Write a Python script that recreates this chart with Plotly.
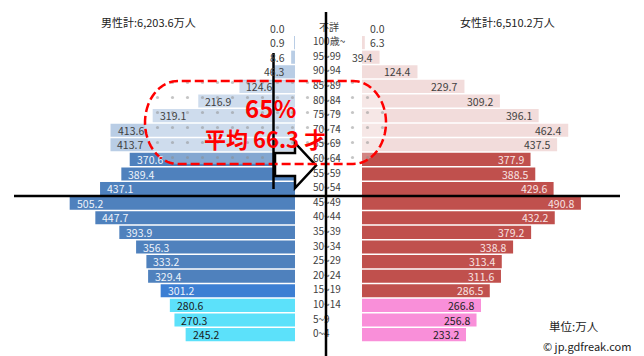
import numpy as np
import plotly.graph_objects as go

W, H = 644, 356

# ---------------- data ----------------
ages = ["不詳", "100歳~", "95~99", "90~94", "85~89", "80~84", "75~79", "70~74",
        "65~69", "60~64", "55~59", "50~54", "45~49", "40~44", "35~39", "30~34",
        "25~29", "20~24", "15~19", "10~14", "5~9", "0~4"]
male = [0.0, 0.9, 8.6, 46.3, 124.6, 216.9, 319.1, 413.6, 413.7, 370.6, 389.4,
        437.1, 505.2, 447.7, 393.9, 356.3, 333.2, 329.4, 301.2, 280.6, 270.3, 245.2]
female = [0.0, 6.3, 39.4, 124.4, 229.7, 309.2, 396.1, 462.4, 437.5, 377.9, 388.5,
          429.6, 490.8, 432.2, 379.2, 338.8, 313.4, 311.6, 286.5, 266.8, 256.8, 233.2]
age_group = ["old"] * 9 + ["work"] * 9 + ["teen"] + ["child"] * 3
male_total = "6,203.6"
female_total = "6,510.2"
share_65 = "65%"
avg_age = "66.3"

# ---------------- styles ----------------
male_fill = {"old": "#b9cde5", "work": "#4f81bd", "teen": "#3d7fd3", "child": "#5ce1fa"}
female_fill = {"old": "#f2dcdb", "work": "#c0504d", "teen": "#c0504d", "child": "#f98fd9"}
male_txt = {"old": "#404040", "work": "#eef3fa", "teen": "#eef3fa", "child": "#1a1a1a"}
female_txt = {"old": "#404040", "work": "#f8e4e4", "teen": "#f8e4e4", "child": "#222222"}
JP = "Noto Sans CJK JP"

# geometry (pixels) of the pyramid
PX_PER_UNIT = 0.446
MALE_EDGE, FEMALE_EDGE = 295, 362
CENTER = (MALE_EDGE + FEMALE_EDGE) / 2
HALF_GAP = (FEMALE_EDGE - MALE_EDGE) / 2 / PX_PER_UNIT
X_RANGE = [-CENTER / PX_PER_UNIT, (W - CENTER) / PX_PER_UNIT]


def px(x):
    return x / W


def py(y):
    return 1 - y / H


fig = go.Figure()

fig.add_trace(go.Bar(
    y=ages, x=[-v for v in male], base=[-HALF_GAP] * len(male), orientation="h",
    xaxis="x", yaxis="y",
    marker=dict(color=[male_fill[g] for g in age_group], line=dict(width=0)),
    hoverinfo="skip", showlegend=False))
fig.add_trace(go.Bar(
    y=ages, x=female, base=[HALF_GAP] * len(female), orientation="h",
    xaxis="x", yaxis="y",
    marker=dict(color=[female_fill[g] for g in age_group], line=dict(width=0)),
    hoverinfo="skip", showlegend=False))

# center age labels (text trace so that the lines are drawn over them)
lab_x = [319 if a == "不詳" else 313 for a in ages]
fig.add_trace(go.Scatter(
    x=lab_x, y=ages, xaxis="x4", yaxis="y", mode="text", text=ages,
    textposition="middle right", textfont=dict(family=JP, size=10, color="#404040"),
    hoverinfo="skip", showlegend=False))

# stadium-shaped highlighted region (pixel geometry)
cy, ry = 122.5, 41.5
lx, rx_c, rad = 178, 353, 33
t1 = np.linspace(np.pi / 2, 3 * np.pi / 2, 40)
t2 = np.linspace(-np.pi / 2, np.pi / 2, 40)
sx = list(lx + rad * np.cos(t1)) + list(rx_c + rad * np.cos(t2))
sy = list(cy - ry * np.sin(t1)) + list(cy - ry * np.sin(t2))
sx.append(sx[0]); sy.append(sy[0])
fig.add_trace(go.Scatter(
    x=sx, y=sy, xaxis="x3", yaxis="y3", mode="lines", line=dict(width=0),
    fill="toself", fillcolor="rgba(255,255,255,0.3)",
    fillpattern=dict(shape=".", size=15, solidity=0.035, fgcolor="#8c8c8c",
                     bgcolor="rgba(255,255,255,0.3)"),
    hoverinfo="skip", showlegend=False))

annotations = []
for a, v, g in zip(ages, male, age_group):
    f = dict(family=JP, size=10.5, color=male_txt[g])
    if v >= 60:
        annotations.append(dict(x=-HALF_GAP - v, y=a, xref="x", yref="y", xanchor="left",
                                xshift=5, text=f"{v:.1f}", showarrow=False, font=f))
    else:
        annotations.append(dict(x=-HALF_GAP, y=a, xref="x", yref="y", xanchor="right",
                                xshift=-8, text=f"{v:.1f}", showarrow=False, font=f))
for a, v, g in zip(ages, female, age_group):
    f = dict(family=JP, size=10.5, color=female_txt[g])
    if v >= 30:
        annotations.append(dict(x=HALF_GAP + v, y=a, xref="x", yref="y", xanchor="right",
                                xshift=-5, text=f"{v:.1f}", showarrow=False, font=f))
    else:
        annotations.append(dict(x=HALF_GAP, y=a, xref="x", yref="y", xanchor="left",
                                xshift=6, text=f"{v:.1f}", showarrow=False, font=f))

annotations += [
    dict(x=px(99), y=py(22), xref="paper", yref="paper", xanchor="left", yanchor="middle",
         text=f"男性計:{male_total}万人", showarrow=False,
         font=dict(family=JP, size=11, color="#222")),
    dict(x=px(458), y=py(22), xref="paper", yref="paper", xanchor="left", yanchor="middle",
         text=f"女性計:{female_total}万人", showarrow=False,
         font=dict(family=JP, size=11, color="#222")),
    dict(x=px(547), y=py(326), xref="paper", yref="paper", xanchor="left", yanchor="middle",
         text="単位:万人", showarrow=False, font=dict(family=JP, size=11.5, color="#222")),
    dict(x=px(541), y=py(346), xref="paper", yref="paper", xanchor="left", yanchor="middle",
         text="© jp.gdfreak.com", showarrow=False, font=dict(family=JP, size=11, color="#222")),
    dict(x=px(270.5), y=py(107.5), xref="paper", yref="paper", xanchor="center", yanchor="middle",
         text=share_65, showarrow=False,
         font=dict(family=JP, size=24, color="#ff0000", weight="bold")),
    dict(x=px(265), y=py(138), xref="paper", yref="paper", xanchor="center", yanchor="middle",
         text=f"平均 {avg_age} 才", showarrow=False,
         font=dict(family=JP, size=22, color="#ff0000", weight="bold")),
]


def path(points):
    return "M " + " L ".join(f"{px(x):.5f},{py(y):.5f}" for x, y in points) + " Z"


arrow_pts = [(275, 153), (295, 153), (295, 143), (316, 165.5), (295, 188), (295, 176), (275, 176)]
stadium_pts = list(zip(sx[:-1], sy[:-1]))

shapes = [
    dict(type="path", xref="paper", yref="paper", path=path(arrow_pts),
         fillcolor="white", line=dict(color="black", width=2.5), layer="above"),
    dict(type="path", xref="paper", yref="paper", path=path(stadium_pts),
         line=dict(color="#ff0000", width=2.5, dash="9px,4px"), layer="above"),
    dict(type="line", xref="paper", yref="y", x0=px(14), x1=px(620), y0=11.5, y1=11.5,
         line=dict(color="black", width=2.5), layer="above"),
    dict(type="line", xref="paper", yref="paper", x0=px(326), x1=px(326), y0=py(12), y1=0,
         line=dict(color="black", width=2.5), layer="above"),
    dict(type="line", xref="paper", yref="paper", x0=px(273.5), x1=px(273.5), y0=py(53), y1=py(189),
         line=dict(color="black", width=2.5), layer="above"),
]

top_pad, step = 28.0, 14.6
fig.update_layout(
    width=W, height=H, margin=dict(l=0, r=0, t=0, b=0),
    paper_bgcolor="white", plot_bgcolor="rgba(0,0,0,0)",
    barmode="overlay", bargap=0.1, showlegend=False,
    xaxis=dict(domain=[0, 1], range=X_RANGE, visible=False, anchor="y"),
    yaxis=dict(type="category", categoryarray=ages, categoryorder="array",
               range=[(H - top_pad) / step, -top_pad / step], visible=False, anchor="x"),
    xaxis3=dict(domain=[0, 1], range=[0, W], visible=False, anchor="y3"),
    yaxis3=dict(domain=[0, 1], range=[H, 0], visible=False, anchor="x3"),
    xaxis4=dict(domain=[0, 1], range=[0, W], visible=False, anchor="y"),
    annotations=annotations, shapes=shapes,
)

fig.write_html("out.html")
